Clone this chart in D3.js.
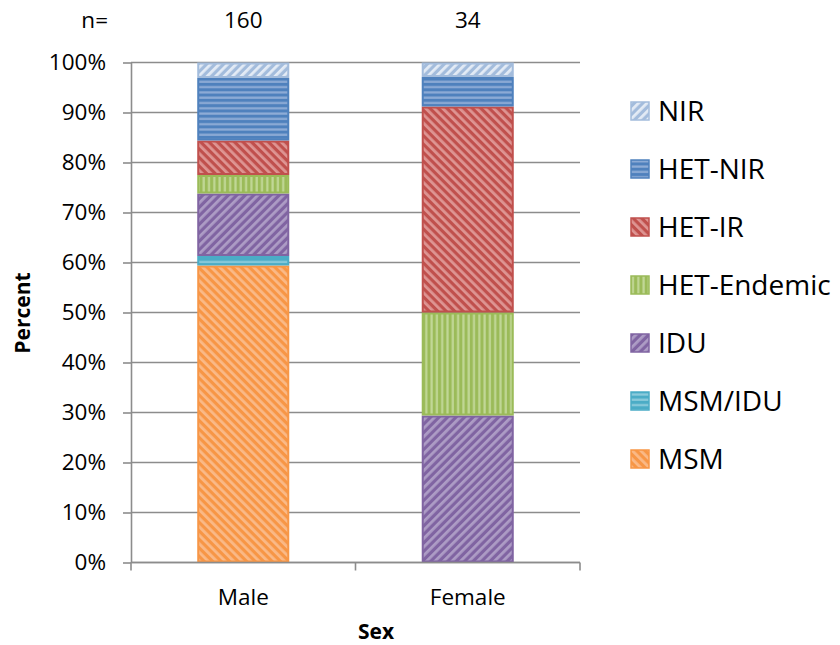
<!DOCTYPE html>
<html>
<head>
<meta charset="utf-8">
<script src="https://cdn.jsdelivr.net/npm/d3@7"></script>
<style>
  html, body { margin: 0; padding: 0; background: #fff; }
  svg { display: block; font-family: "Open Sans", sans-serif; }
</style>
</head>
<body>
<svg id="chart" width="840" height="645"></svg>
<script>
// ---- data ----
const categories = ["Male", "Female"];
const counts = [160, 34];
const seriesNames = ["MSM", "MSM/IDU", "IDU", "HET-Endemic", "HET-IR", "HET-NIR", "NIR"];
const msm        = [59.4, 0];
const msmIdu     = [1.9, 0];
const idu        = [12.5, 29.4];
const hetEndemic = [3.7, 20.6];
const hetIR      = [6.9, 41.2];
const hetNIR     = [12.5, 5.9];
const nir        = [3.1, 2.9];
const yTicks = [0, 10, 20, 30, 40, 50, 60, 70, 80, 90, 100];
const legendOrder = ["NIR", "HET-NIR", "HET-IR", "HET-Endemic", "IDU", "MSM/IDU", "MSM"];

const seriesValues = [msm, msmIdu, idu, hetEndemic, hetIR, hetNIR, nir];

// ---- styles ----
const styles = {
  "MSM":         {base: "#f79646", stripe: "#fab987", kind: "down"},
  "MSM/IDU":     {base: "#4bacc6", stripe: "#8ccbdc", kind: "horiz"},
  "IDU":         {base: "#8064a2", stripe: "#ad9cc5", kind: "up"},
  "HET-Endemic": {base: "#9bbb59", stripe: "#c1d796", kind: "vert"},
  "HET-IR":      {base: "#c0504d", stripe: "#de9593", kind: "down"},
  "HET-NIR":     {base: "#4f81bd", stripe: "#8eacd6", kind: "horiz"},
  "NIR":         {base: "#a3bcdc", stripe: "#e3ebf5", kind: "up"}
};

const svg = d3.select("#chart");
const defs = svg.append("defs");
seriesNames.forEach((name, i) => {
  const s = styles[name];
  let p;
  if (s.kind === "horiz") {
    p = defs.append("pattern").attr("id", "pat" + i).attr("patternUnits", "userSpaceOnUse")
      .attr("width", 6).attr("height", 5.3);
    p.append("rect").attr("width", 6).attr("height", 5.3).attr("fill", s.base);
    p.append("rect").attr("y", 1.2).attr("width", 6).attr("height", 2.2).attr("fill", s.stripe);
  } else if (s.kind === "vert") {
    p = defs.append("pattern").attr("id", "pat" + i).attr("patternUnits", "userSpaceOnUse")
      .attr("width", 5.3).attr("height", 6);
    p.append("rect").attr("width", 5.3).attr("height", 6).attr("fill", s.base);
    p.append("rect").attr("x", 1.2).attr("width", 2.2).attr("height", 6).attr("fill", s.stripe);
  } else {
    p = defs.append("pattern").attr("id", "pat" + i).attr("patternUnits", "userSpaceOnUse")
      .attr("width", 6).attr("height", 6)
      .attr("patternTransform", "rotate(" + (s.kind === "up" ? 45 : -45) + ")");
    p.append("rect").attr("width", 6).attr("height", 6).attr("fill", s.base);
    p.append("rect").attr("x", 1).attr("width", 2.8).attr("height", 6).attr("fill", s.stripe);
  }
});

// ---- layout ----
const pLeft = 131, pRight = 580, pTop = 62.5, pBottom = 562.5;
const x = d3.scaleBand().domain(categories).range([pLeft, pRight]).padding(0);
const y = d3.scaleLinear().domain([0, 100]).range([pBottom, pTop]);
const barW = x.bandwidth() * 0.41;

// gridlines
svg.append("g").selectAll("line").data(yTicks).join("line")
  .attr("x1", pLeft).attr("x2", pRight)
  .attr("y1", d => y(d)).attr("y2", d => y(d))
  .attr("stroke", "#8c8c8c").attr("stroke-width", 1.6);

// stacked bars
const table = categories.map((c, ci) => {
  const row = {cat: c};
  seriesNames.forEach((n, si) => row[n] = seriesValues[si][ci]);
  return row;
});
const stacked = d3.stack().keys(seriesNames)(table);
stacked.forEach((layer, si) => {
  const s = styles[seriesNames[si]];
  svg.append("g").selectAll("rect").data(layer.filter(d => d[1] - d[0] > 0)).join("rect")
    .attr("x", d => x(d.data.cat) + (x.bandwidth() - barW) / 2 + 1)
    .attr("width", barW - 2)
    .attr("y", d => y(d[1]) + 1)
    .attr("height", d => Math.max(0, y(d[0]) - y(d[1]) - 2))
    .attr("fill", "url(#pat" + si + ")")
    .attr("stroke", s.base).attr("stroke-width", 2);
});

// y axis
const yAxis = svg.append("g").attr("transform", `translate(${pLeft},0)`)
  .call(d3.axisLeft(y).tickValues(yTicks).tickFormat(d => d + "%").tickSizeInner(8).tickSizeOuter(0).tickPadding(6));
yAxis.select(".domain").attr("stroke", "#8c8c8c").attr("stroke-width", 1.6);
yAxis.selectAll(".tick line").attr("stroke", "#8c8c8c").attr("stroke-width", 1.6);
yAxis.selectAll(".tick text").attr("font-size", 22.5).attr("fill", "#000")
  .attr("font-family", "Open Sans, sans-serif").attr("x", -25);

// x axis
const xAxis = svg.append("g").attr("transform", `translate(0,${pBottom})`);
xAxis.append("line").attr("x1", pLeft).attr("x2", pRight).attr("stroke", "#8c8c8c").attr("stroke-width", 1.6);
const edges = [x.range()[0]].concat(categories.map(c => x(c) + x.bandwidth()));
xAxis.selectAll("line.tk").data(edges).join("line").attr("class", "tk")
  .attr("x1", d => d).attr("x2", d => d).attr("y1", 0).attr("y2", 8)
  .attr("stroke", "#8c8c8c").attr("stroke-width", 1.6);
xAxis.selectAll("text").data(categories).join("text")
  .attr("x", d => x(d) + x.bandwidth() / 2).attr("y", 42)
  .attr("text-anchor", "middle").attr("font-size", 22.5).text(d => d);

// n= labels
svg.append("text").attr("x", 108).attr("y", 28).attr("text-anchor", "end").attr("font-size", 22.5).text("n=");
svg.selectAll("text.n").data(categories).join("text").attr("class", "n")
  .attr("x", (d) => x(d) + x.bandwidth() / 2).attr("y", 28)
  .attr("text-anchor", "middle").attr("font-size", 22.5)
  .text((d, i) => counts[i]);

// axis titles
svg.append("text").attr("x", 376).attr("y", 639).attr("text-anchor", "middle")
  .attr("font-size", 21).attr("font-weight", "bold").text("Sex");
svg.append("text").attr("transform", "translate(30,313) rotate(-90)").attr("text-anchor", "middle")
  .attr("font-size", 21).attr("font-weight", "bold").text("Percent");

// legend
const lg = svg.append("g");
legendOrder.forEach((name, i) => {
  const si = seriesNames.indexOf(name);
  const cy = 111 + i * 58;
  lg.append("rect").attr("x", 631).attr("y", cy - 9).attr("width", 18).attr("height", 18)
    .attr("fill", "url(#pat" + si + ")").attr("stroke", styles[name].base).attr("stroke-width", 1.5);
  lg.append("text").attr("x", 658).attr("y", cy).attr("dy", "0.36em")
    .attr("font-size", 28).text(name);
});
</script>
</body>
</html>
